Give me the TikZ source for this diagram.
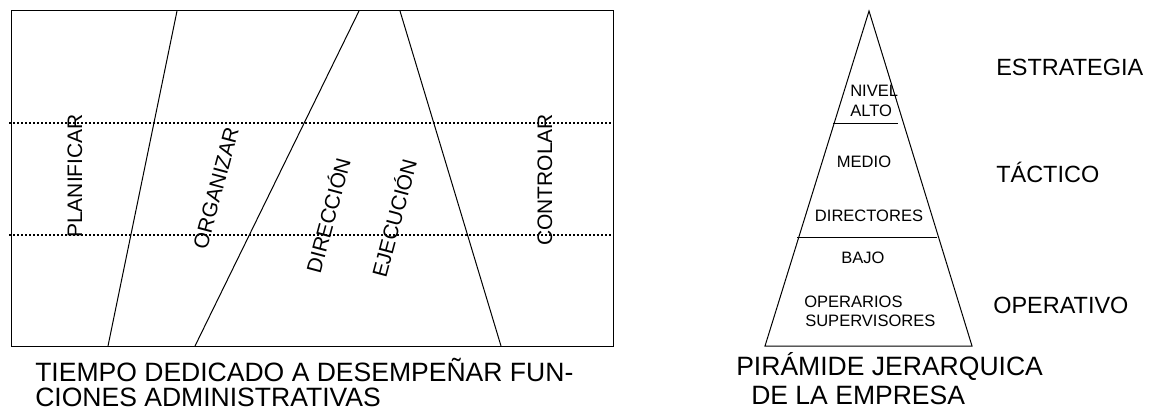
\documentclass[tikz,border=0pt]{standalone}
\usepackage{fontspec}
\setmainfont{Liberation Sans}
\begin{document}
\begin{tikzpicture}[x=0.75pt,y=-0.75pt,
  thinline/.style={line width=0.75pt},
  dotline/.style={line width=1.6pt, dash pattern=on 1.5pt off 1.5pt},
  captiontext/.style={inner sep=0pt, anchor=base west, font=\fontsize{19.9}{24}\selectfont},
  leveltext/.style={inner sep=0pt, anchor=base west, font=\fontsize{17.6}{21}\selectfont},
  functext/.style={inner sep=0pt, font=\fontsize{15.75}{19}\selectfont},
  pyrtext/.style={inner sep=0pt, anchor=base, font=\fontsize{12.4}{15}\selectfont},
  pyrleft/.style={pyrtext, anchor=base west}]
\useasboundingbox (0,0) rectangle (1151,410);

% ---------- left chart ----------
\coordinate (rtl) at (11,11);
\coordinate (rbr) at (613,346);
\draw[thinline] (rtl) rectangle (rbr);

\coordinate (d1l) at (9,123);  \coordinate (d1r) at (613,123);
\coordinate (d2l) at (9,235);  \coordinate (d2r) at (613,235);
\draw[dotline] (d1l) -- (d1r);
\draw[dotline] (d2l) -- (d2r);

\coordinate (a1) at (177,11); \coordinate (b1) at (108,346);
\coordinate (a2) at (359,11); \coordinate (b2) at (195,346);
\coordinate (a3) at (400,11); \coordinate (b3) at (501,346);
\draw[thinline] (a1) -- (b1);
\draw[thinline] (a2) -- (b2);
\draw[thinline] (a3) -- (b3);

\node[functext, rotate=90] (plan) at (75,176) {PLANIFICAR};
\node[functext, rotate=75] (org) at (216,188) {ORGANIZAR};
\node[functext, rotate=75] (dir) at (327,215) {DIRECCIÓN};
\node[functext, rotate=75] (eje) at (393,218) {EJECUCIÓN};
\node[functext, rotate=90] (con) at (545,180) {CONTROLAR};

\node[captiontext] (cap1) at (35,381) {TIEMPO DEDICADO A DESEMPEÑAR FUN-};
\node[captiontext] (cap2) at (35,406) {CIONES ADMINISTRATIVAS};

% ---------- pyramid ----------
\coordinate (apex) at (869,11);
\coordinate (bl) at (765,346);
\coordinate (br) at (972,346);
\draw[thinline] (apex) -- (bl) -- (br) -- cycle;
\coordinate (l1l) at (833,123); \coordinate (l1r) at (898,123);
\coordinate (l2l) at (797,237); \coordinate (l2r) at (937,237);
\draw[thinline] (l1l) -- (l1r);
\draw[thinline] (l2l) -- (l2r);

\node[pyrleft] (nivel) at (850,96) {NIVEL};
\node[pyrleft] (alto) at (850,116) {ALTO};
\node[pyrtext] (medio) at (864,167) {MEDIO};
\node[pyrtext] (directores) at (869,221) {DIRECTORES};
\node[pyrtext] (bajo) at (863,263) {BAJO};
\node[pyrleft] (operarios) at (804,307) {OPERARIOS};
\node[pyrleft] (supervisores) at (805,326) {SUPERVISORES};

\node[leveltext] (estr) at (996,75) {ESTRATEGIA};
\node[leveltext] (tact) at (996,182) {TÁCTICO};
\node[leveltext] (oper) at (993,313) {OPERATIVO};

\node[captiontext] (pir1) at (736,375) {PIRÁMIDE JERARQUICA};
\node[captiontext] (pir2) at (751,404) {DE LA EMPRESA};
\end{tikzpicture}
\end{document}
